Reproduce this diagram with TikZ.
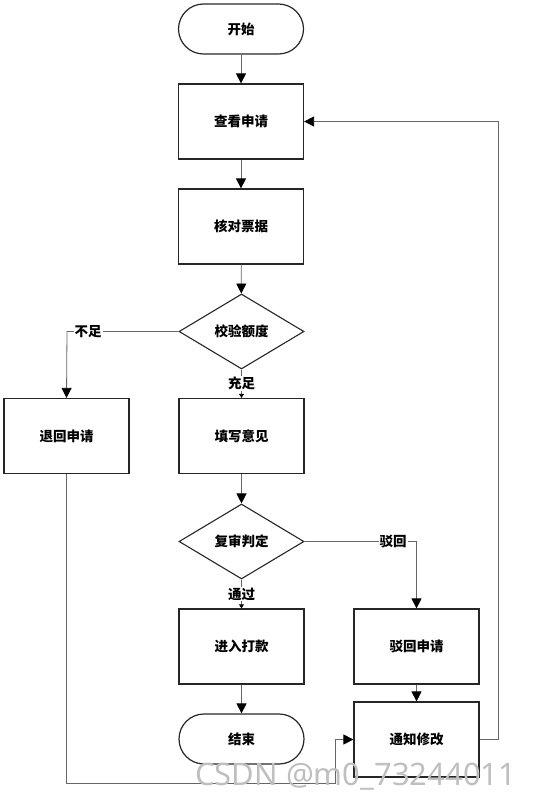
\documentclass[tikz,border=0pt]{standalone}
\usepackage{fontspec}
\newfontfamily\cjk{Noto Sans CJK SC}
\newfontfamily\wmfont{Noto Sans}
\usetikzlibrary{shapes.geometric,arrows.meta}
\begin{document}
\begin{tikzpicture}[x=1pt,y=-1pt,
  every node/.style={font=\cjk\bfseries\fontsize{13.5}{16}\selectfont},
  box/.style={draw=black!85,line width=1.2pt,minimum width=125pt,minimum height=75pt,inner sep=0pt},
  term/.style={box,rounded corners=25pt,minimum height=50pt},
  dia/.style={draw=black!85,line width=1.1pt,diamond,minimum width=125pt,minimum height=75pt,inner sep=0pt},
  conn/.style={draw=black!60,line width=0.8pt,-{Triangle[length=10pt,width=10pt,color=black]}},
  sconn/.style={draw=black!60,line width=0.8pt,-{Triangle[length=4pt,width=5pt,color=black]}},
  lab/.style={fill=white,inner sep=1pt}]
\useasboundingbox (0,0) rectangle (536,802);
\node[term] (start) at (241,29) {开始};
\node[box] (view) at (241,121.5) {查看申请};
\node[box] (check) at (241,226.5) {核对票据};
\node[dia] (quota) at (241.5,331.5) {校验额度};
\node[box] (back) at (66.5,436) {退回申请};
\node[box] (fill) at (241.5,436) {填写意见};
\node[dia] (review) at (241.5,541.5) {复审判定};
\node[box] (pay) at (241.5,646.5) {进入打款};
\node[box] (rej) at (416.5,646.5) {驳回申请};
\node[term] (end) at (241.5,739) {结束};
\node[box] (notify) at (416.5,739.5) {通知修改};
\coordinate (c1) at (67,331.5);
\coordinate (c2) at (416.5,541.5);
\coordinate (c3) at (498,739.5);
\coordinate (c4) at (498,121.5);
\coordinate (c5) at (66.5,783);
\coordinate (c6) at (335,783);
\coordinate (c7) at (335,739.5);
\draw[conn] (start) -- (view);
\draw[conn] (view) -- (check);
\draw[conn] (check) -- (quota);
\draw[conn] (quota.west) -- (c1) -- (back.north);
\node[lab] at (88,331.5) {不足};
\draw[sconn] (quota.south) -- node[lab,pos=0.48] {充足} (fill.north);
\draw[conn] (fill) -- (review);
\draw[conn] (review.east) -- (c2) -- (rej.north);
\node[lab] at (393,541.5) {驳回};
\draw[sconn] (review.south) -- node[lab,pos=0.5] {通过} (pay.north);
\draw[conn] (pay) -- (end);
\draw[conn] (rej) -- (notify);
\draw[conn] (notify.east) -- (c3) -- (c4) -- (view.east);
\draw[conn] (back.south) -- (c5) -- (c6) -- (c7) -- (notify.west);
\node[font=\wmfont\fontsize{31}{36}\selectfont,text=black!25,anchor=base west,inner sep=0pt] (wm) at (195,785) {CSDN @m0\_73244011};
\end{tikzpicture}
\end{document}
